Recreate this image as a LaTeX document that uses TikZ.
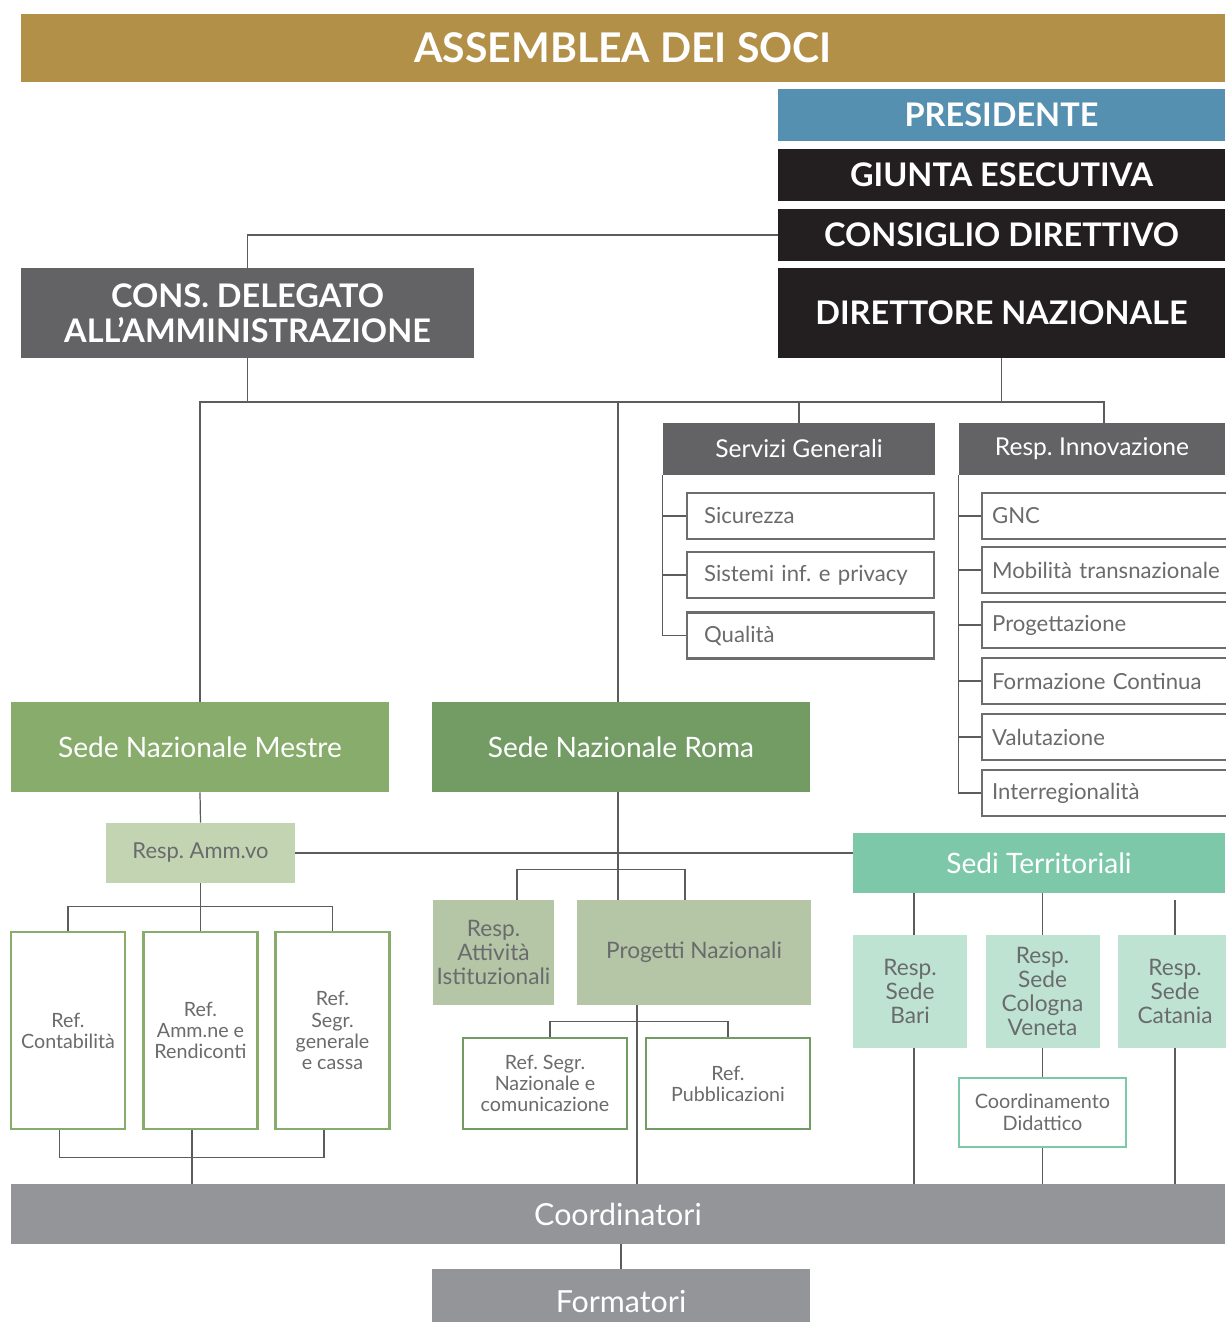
\documentclass[tikz,border=0pt]{standalone}
\usepackage{fontspec}
\setmainfont{Lato}
\usepackage{xcolor}
\usetikzlibrary{positioning}

\definecolor{gold}{HTML}{B39048}
\definecolor{steel}{HTML}{5690B1}
\definecolor{nearblack}{HTML}{231F20}
\definecolor{slate}{HTML}{636365}
\definecolor{mestregreen}{HTML}{87AC6B}
\definecolor{romagreen}{HTML}{739C65}
\definecolor{ammlight}{HTML}{C3D4B2}
\definecolor{sage}{HTML}{B5C6A7}
\definecolor{teal}{HTML}{7DC8A9}
\definecolor{teallight}{HTML}{BEE3D3}
\definecolor{coordgray}{HTML}{949598}
\definecolor{textgray}{HTML}{6A6B6D}
\definecolor{itemgray}{HTML}{6D6D6D}
\definecolor{linegray}{HTML}{5C5C5C}

\begin{document}
\frenchspacing
\begin{tikzpicture}[x=0.02cm, y=-0.02cm,
    solidbox/.style={rectangle, inner sep=0pt, align=center, text=white},
    capsbox/.style={solidbox, font=\bfseries\fontsize{18.5}{21.5}\selectfont},
    palebox/.style={rectangle, inner sep=0pt, align=center, text=textgray, font=\fontsize{12.9}{13.8}\selectfont},
    listbox/.style={rectangle, draw=itemgray, fill=white, line width=1.3pt, anchor=west, align=left, minimum height=0.92cm, text=textgray, font=\fontsize{12.6}{14}\selectfont},
    refbox/.style={rectangle, fill=white, line width=1.6pt, inner sep=0pt, align=center, text=textgray, font=\fontsize{11.2}{12}\selectfont},
    link/.style={draw=linegray, line width=0.7pt}]
    \useasboundingbox (0,0) rectangle (1225,1322);

    % top of the chart
    \node[solidbox, fill=gold, minimum width=24.08cm, minimum height=1.36cm, font=\bfseries\fontsize{23.3}{26}\selectfont] (assemblea) at (623,48) {ASSEMBLEA DEI SOCI};
    \node[capsbox, fill=steel, minimum width=8.94cm, minimum height=1.04cm] (presidente) at (1001.5,115) {PRESIDENTE};
    \node[capsbox, fill=nearblack, minimum width=8.94cm, minimum height=1.04cm] (giunta) at (1001.5,175) {GIUNTA ESECUTIVA};
    \node[capsbox, fill=nearblack, minimum width=8.94cm, minimum height=1.04cm] (consiglio) at (1001.5,235) {CONSIGLIO DIRETTIVO};
    \node[capsbox, fill=nearblack, minimum width=8.94cm, minimum height=1.8cm] (direttore) at (1001.5,313) {DIRETTORE NAZIONALE};
    \node[capsbox, fill=slate, minimum width=9.06cm, minimum height=1.8cm, font=\bfseries\fontsize{18.5}{20}\selectfont] (delegato) at (247.5,313) {CONS. DELEGATO\\ALL’AMMINISTRAZIONE};

    % servizi and innovazione
    \node[solidbox, fill=slate, minimum width=5.44cm, minimum height=1.04cm, font=\fontsize{14}{16}\selectfont] (servizi) at (799,449) {Servizi Generali};
    \node[solidbox, fill=slate, minimum width=5.32cm, minimum height=1.04cm, font=\fontsize{14}{16}\selectfont] (innov) at (1092,449) {Resp. Innovazione};
    \node[listbox, text width=4.26cm, inner xsep=0.34cm] (sicurezza) at (686,516) {Sicurezza};
    \node[listbox, text width=4.26cm, inner xsep=0.34cm] (sistemi) at (686,575) {Sistemi inf. e privacy};
    \node[listbox, text width=4.26cm, inner xsep=0.34cm] (qualita) at (686,635.5) {Qualità};
    \foreach \name/\y/\txt in {gnc/516/GNC, mobilita/570/Mobilità transnazionale, progettazione/625/Progettazione, formazione/681/Formazione Continua, valutazione/737/Valutazione, interreg/793/Interregionalità}
        \node[listbox, text width=5.2cm, inner xsep=0.2cm] (\name) at (981,\y) {\txt};

    % sedi nazionali
    \node[solidbox, fill=mestregreen, minimum width=7.56cm, minimum height=1.8cm, font=\fontsize{16}{18}\selectfont] (mestre) at (200,747) {Sede Nazionale Mestre};
    \node[solidbox, fill=romagreen, minimum width=7.56cm, minimum height=1.8cm, font=\fontsize{16}{18}\selectfont] (roma) at (621,747) {Sede Nazionale Roma};
    \node[palebox, fill=ammlight, minimum width=3.78cm, minimum height=1.2cm, font=\fontsize{12.5}{14}\selectfont] (ammvo) at (200.5,853) {Resp. Amm.vo};
    \node[refbox, draw=mestregreen, minimum width=2.28cm, minimum height=3.94cm] (contab) at (68,1030.5) {Ref.\\Contabilità};
    \node[refbox, draw=mestregreen, minimum width=2.28cm, minimum height=3.94cm] (rendiconti) at (200.5,1030.5) {Ref.\\Amm.ne e\\Rendiconti};
    \node[refbox, draw=mestregreen, minimum width=2.28cm, minimum height=3.94cm] (cassa) at (332.5,1030.5) {Ref.\\Segr.\\generale\\e cassa};
    \node[palebox, fill=sage, minimum width=2.42cm, minimum height=2.1cm] (attivita) at (493.5,952.5) {Resp.\\Attività\\Istituzionali};
    \node[palebox, fill=sage, minimum width=4.68cm, minimum height=2.1cm] (progetti) at (694,952.5) {Progetti Nazionali};
    \node[refbox, draw=romagreen, minimum width=3.28cm, minimum height=1.82cm] (refsegr) at (545,1083.5) {Ref. Segr.\\Nazionale e\\comunicazione};
    \node[refbox, draw=romagreen, minimum width=3.28cm, minimum height=1.82cm] (refpubb) at (728,1083.5) {Ref.\\Pubblicazioni};

    % sedi territoriali
    \node[solidbox, fill=teal, minimum width=7.44cm, minimum height=1.2cm, font=\fontsize{16}{18}\selectfont] (sedi) at (1039,863) {Sedi Territoriali};
    \node[palebox, fill=teallight, minimum width=2.28cm, minimum height=2.26cm] (bari) at (910,991.5) {Resp.\\Sede\\Bari};
    \node[palebox, fill=teallight, minimum width=2.28cm, minimum height=2.26cm] (cologna) at (1042.5,991.5) {Resp.\\Sede\\Cologna\\Veneta};
    \node[palebox, fill=teallight, minimum width=2.28cm, minimum height=2.26cm] (catania) at (1175,991.5) {Resp.\\Sede\\Catania};
    \node[refbox, draw=teal, minimum width=3.34cm, minimum height=1.38cm, font=\fontsize{11.3}{12.5}\selectfont] (didattico) at (1042.5,1112.5) {Coordinamento\\Didattico};

    % bottom
    \node[solidbox, fill=coordgray, minimum width=24.28cm, minimum height=1.2cm, font=\fontsize{17.3}{19}\selectfont] (coordinatori) at (618,1214) {Coordinatori};
    \node[solidbox, fill=coordgray, minimum width=7.56cm, minimum height=1.3cm, font=\fontsize{17.3}{19}\selectfont] (formatori) at (621,1301.5) {Formatori};

    % connectors
    \coordinate (bus) at (0,402);
    \draw[link] (consiglio.west) -| (delegato.north);
    \draw[link] (mestre.north) |- ([xshift=0.24cm]innov.north |- bus) -- ([xshift=0.24cm]innov.north);
    \draw[link] (delegato.south) -- (delegato.south |- bus);
    \draw[link] (direttore.south) -- (direttore.south |- bus);
    \draw[link] ([xshift=-0.06cm]roma.north) -- ([xshift=-0.06cm]roma.north |- bus);
    \draw[link] (servizi.north) -- (servizi.north |- bus);
    \draw[link] (servizi.south west) |- (qualita.west);
    \foreach \name in {sicurezza, sistemi}
        \draw[link] (servizi.south west |- \name.west) -- (\name.west);
    \draw[link] (innov.south west) |- (interreg.west);
    \foreach \name in {gnc, mobilita, progettazione, formazione, valutazione}
        \draw[link] (innov.south west |- \name.west) -- (\name.west);

    \draw[link] (mestre.south) -- (ammvo.north);
    \draw[link] (ammvo.east) -- (ammvo.east -| sedi.west);
    \draw[link] (ammvo.south) -- (rendiconti.north);
    \draw[link] (contab.north) -- ++(0,0.48cm) -| (cassa.north);
    \draw[link] ([xshift=-0.17cm]contab.south) -- ++(0,-0.54cm) -| ([xshift=-0.17cm]cassa.south);
    \draw[link] ([xshift=-0.17cm]rendiconti.south) -- ([xshift=-0.17cm]rendiconti.south |- coordinatori.north);

    \draw[link] ([xshift=-0.06cm]roma.south) -- ([xshift=-0.06cm]roma.south |- attivita.north);
    \draw[link] ([xshift=0.47cm]attivita.north) -- ++(0,0.6cm) -| ([xshift=-0.18cm]progetti.north);
    \draw[link] ([xshift=-1.14cm]progetti.south) -- ([xshift=-1.14cm]progetti.south |- coordinatori.north);
    \draw[link] ([xshift=0.1cm]refsegr.north) -- ++(0,0.3cm) -| (refpubb.north);

    \draw[link] ([xshift=0.08cm]bari.north |- sedi.south) -- ([xshift=0.08cm]bari.north);
    \draw[link] ([xshift=0.08cm]bari.south) -- ([xshift=0.08cm]bari.south |- coordinatori.north);
    \draw[link] (cologna.north |- sedi.south) -- (cologna.north);
    \draw[link] (cologna.south) -- (didattico.north);
    \draw[link] (didattico.south) -- (didattico.south |- coordinatori.north);
    \draw[link] (catania.north) -- ++(0,0.7cm);
    \draw[link] (catania.south) -- (catania.south |- coordinatori.north);
    \draw[link] (formatori.north |- coordinatori.south) -- (formatori.north);
\end{tikzpicture}
\end{document}
